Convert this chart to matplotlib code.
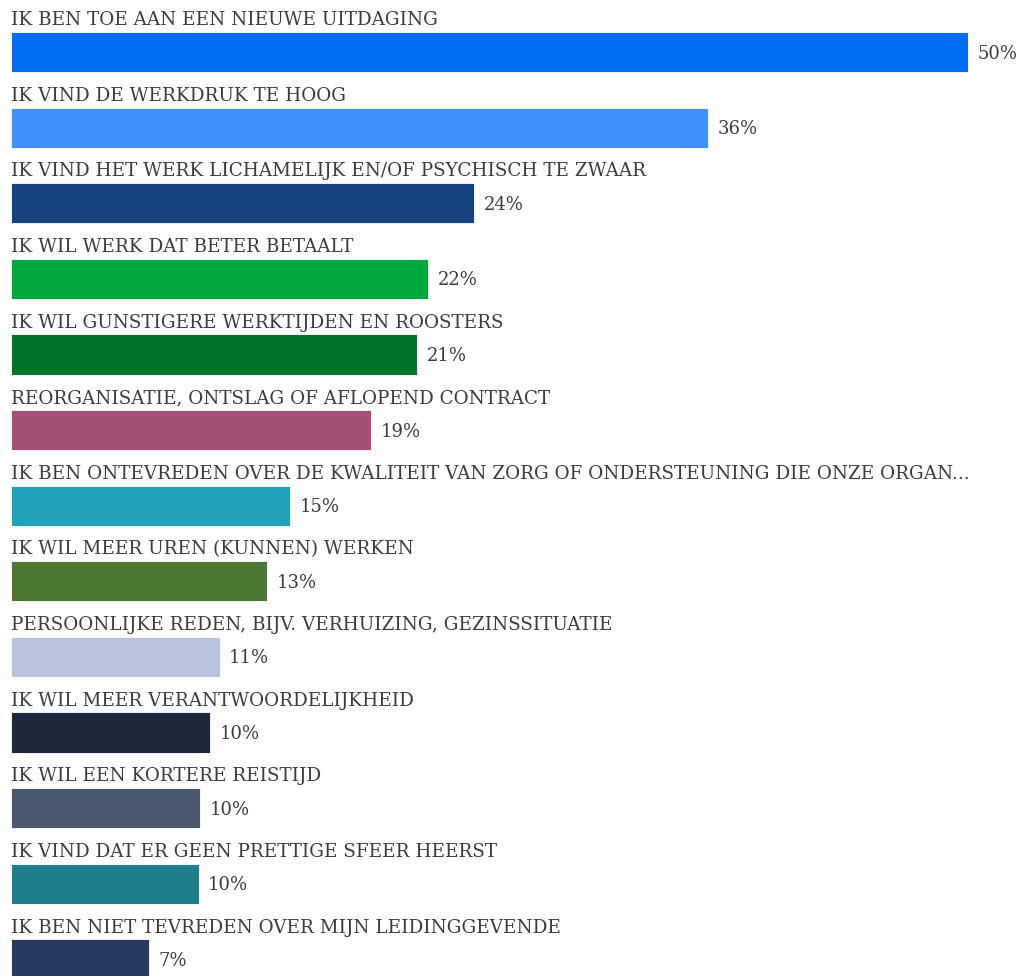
import matplotlib.pyplot as plt

# reasons for leaving, share of respondents (%)
labels = [
    "IK BEN TOE AAN EEN NIEUWE UITDAGING",
    "IK VIND DE WERKDRUK TE HOOG",
    "IK VIND HET WERK LICHAMELIJK EN/OF PSYCHISCH TE ZWAAR",
    "IK WIL WERK DAT BETER BETAALT",
    "IK WIL GUNSTIGERE WERKTIJDEN EN ROOSTERS",
    "REORGANISATIE, ONTSLAG OF AFLOPEND CONTRACT",
    "IK BEN ONTEVREDEN OVER DE KWALITEIT VAN ZORG OF ONDERSTEUNING DIE ONZE ORGAN...",
    "IK WIL MEER UREN (KUNNEN) WERKEN",
    "PERSOONLIJKE REDEN, BIJV. VERHUIZING, GEZINSSITUATIE",
    "IK WIL MEER VERANTWOORDELIJKHEID",
    "IK WIL EEN KORTERE REISTIJD",
    "IK VIND DAT ER GEEN PRETTIGE SFEER HEERST",
    "IK BEN NIET TEVREDEN OVER MIJN LEIDINGGEVENDE",
]
values = [50.0, 36.4, 24.2, 21.8, 21.2, 18.8, 14.6, 13.4, 10.9, 10.4, 9.9, 9.8, 7.2]
shown = ["50%", "36%", "24%", "22%", "21%", "19%", "15%", "13%", "11%", "10%", "10%", "10%", "7%"]
colors = ["#006DF2", "#4191FD", "#15437F", "#00A83E", "#00752A", "#A44F75", "#23A1B8",
          "#4E7635", "#B9C4DA", "#1E283A", "#4A576E", "#1E7F8C", "#243B5F"]

fig = plt.figure(figsize=(10.21, 9.76), dpi=100)
ax = fig.add_axes([0, 0, 1, 1])

ypos = list(range(len(values)))
ax.barh(ypos, values, height=0.53, color=colors, edgecolor="white", linewidth=0.6)

for i in ypos:
    ax.text(0, i - 0.42, labels[i], ha="left", va="center", fontsize=13.2,
            family="DejaVu Serif", color="#3c3c3c")
    ax.text(values[i] + 0.5, i + 0.02, shown[i], ha="left", va="center", fontsize=13,
            family="DejaVu Serif", color="#3c3c3c")

ax.set_xlim(-0.575, 52.77)
ax.set_ylim(12.22, -0.688)
ax.axis("off")

plt.savefig("out.png", dpi=100)
